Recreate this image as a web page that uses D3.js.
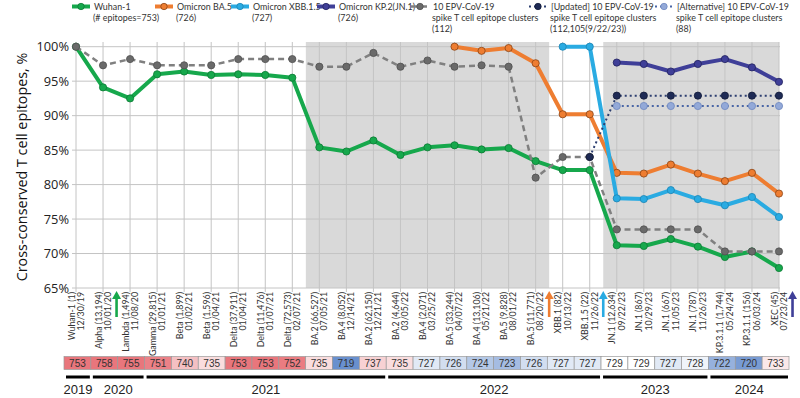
<!DOCTYPE html>
<html>
<head>
<meta charset="utf-8">
<script src="https://cdn.jsdelivr.net/npm/d3@7"></script>
<style>
  body { margin: 0; background: #fff; }
  svg { display: block; }
</style>
</head>
<body>
<svg id="chart" width="800" height="398"></svg>
<script>
// categories (variant + sample count) and collection dates
const variants = ["Wuhan-1 (1)", "Alpha (13,194)", "Lambda (1,494)", "Gamma (29,815)", "Beta (1,899)", "Beta (1,596)",
  "Delta (37,911)", "Delta (11,476)", "Delta (72,573)", "BA.2 (66,527)", "BA.4 (8,052)", "BA.2 (62,150)",
  "BA.2 (4,644)", "BA.4 (2,071)", "BA.5 (33,244)", "BA.4 (13,106)", "BA.5 (9,828)", "BA.5 (11,771)",
  "XBB.1 (82)", "XBB.1.5 (22)", "JN.1 (12,634)", "JN.1 (867)", "JN.1 (667)", "JN.1 (787)",
  "KP.3.1.1 (1,744)", "KP.3.1.1 (156)", "XEC (45)"]
const dates = ["12/30/19", "10/01/20", "11/08/20", "01/01/21", "01/02/21", "01/04/21", "01/04/21", "01/07/21",
  "02/07/21", "07/05/21", "12/14/21", "12/21/21", "03/05/22", "03/25/22", "04/07/22", "05/21/22", "08/01/22",
  "08/20/22", "10/13/22", "11/26/22", "09/22/23", "10/29/23", "11/05/23", "11/26/23", "05/24/24", "06/03/24",
  "07/23/24"]

// cross-conserved T cell epitopes, % (null = not computed)
const wuhan = [100, 94.1, 92.5, 96.0, 96.4, 95.9, 96.0, 95.9, 95.5, 85.4, 84.8, 86.4, 84.3, 85.4, 85.7, 85.1,
  85.3, 83.4, 82.1, 82.1, 71.2, 71.1, 72.1, 71.0, 69.5, 70.3, 67.9]
const ba5 = [null, null, null, null, null, null, null, null, null, null, null, null, null, null, 100, 99.4,
  99.8, 97.6, 90.2, 90.2, 81.7, 81.6, 82.9, 81.6, 80.5, 81.7, 78.7]
const xbb15 = [null, null, null, null, null, null, null, null, null, null, null, null, null, null, null, null,
  null, null, 100, 100, 78.0, 77.9, 79.2, 77.9, 77.0, 78.2, 75.3]
const kp2 = [null, null, null, null, null, null, null, null, null, null, null, null, null, null, null, null,
  null, null, null, null, 97.7, 97.5, 96.4, 97.5, 98.2, 97.0, 94.9]
const epv112 = [100, 97.3, 98.2, 97.3, 97.3, 97.3, 98.2, 98.2, 98.2, 97.1, 97.1, 99.1, 97.1, 98.0, 97.1, 97.3,
  97.1, 81.0, 84.0, 84.0, 73.5, 73.5, 73.5, 73.5, 70.3, 70.3, 70.3]
const epvUpdated = [null, null, null, null, null, null, null, null, null, null, null, null, null, null, null, null,
  null, null, null, 84.0, 92.9, 92.9, 92.9, 92.9, 92.9, 92.9, 92.9]
const epvAlt = [null, null, null, null, null, null, null, null, null, null, null, null, null, null, null, null,
  null, null, null, null, 91.4, 91.4, 91.4, 91.4, 91.4, 91.4, 91.4]

const yTicks = [65, 70, 75, 80, 85, 90, 95, 100]

// number of epitopes per variant (bottom strip)
const epitopeCounts = [753, 758, 755, 751, 740, 735, 753, 753, 752, 735, 719, 737, 735, 727, 726, 724, 723,
  726, 727, 727, 729, 729, 727, 728, 722, 720, 733]

const years = ["2019", "2020", "2021", "2022", "2023", "2024"]
const yearFirst = [0, 1, 3, 12, 20, 24]
const yearLast = [0, 2, 11, 19, 23, 26]

// shaded (omicron) periods, category index ranges
const shadeFirst = [9, 20]
const shadeLast = [17, 26]

// vaccine update arrows, placed after category index
const arrowAfter = [1, 17, 19, 26]

const series = [
  { name: "Wuhan-1", sub: ["(# epitopes=753)"], values: wuhan, color: "#16a84c", mark: "#16a84c", markStroke: "#0d7a35", width: 4, dash: null, lx: 72 },
  { name: "Omicron BA.5", sub: ["(726)"], values: ba5, color: "#ee7d31", mark: "#ee7d31", markStroke: "#8a4415", width: 4, dash: null, lx: 155 },
  { name: "Omicron XBB.1.5", sub: ["(727)"], values: xbb15, color: "#2aabe2", mark: "#2aabe2", markStroke: "#1c84b4", width: 4, dash: null, lx: 231 },
  { name: "Omicron KP.2(JN.1)", sub: ["(726)"], values: kp2, color: "#3f3f98", mark: "#3f3f98", markStroke: "#22225e", width: 4, dash: null, lx: 317 },
  { name: "10 EPV-CoV-19", sub: ["spike T cell epitope clusters", "(112)"], values: epv112, color: "#808080", mark: "#6a6a6a", markStroke: "#505050", width: 2.5, dash: "6,4", lx: 411 },
  { name: "[Updated] 10 EPV-CoV-19", sub: ["spike T cell epitope clusters", "(112,105(9/22/23))"], values: epvUpdated, color: "#2c3e70", mark: "#1f2b55", markStroke: "#121a38", width: 2, dash: "2,3", lx: 529 },
  { name: "[Alternative] 10 EPV-CoV-19", sub: ["spike T cell epitope clusters", "(88)"], values: epvAlt, color: "#4a66a6", mark: "#93a9d8", markStroke: "#6f88bf", width: 2, dash: "2,3", lx: 655 }
]
const arrowColors = ["#16a84c", "#ee7d31", "#2aabe2", "#3f3f98"]

const svg = d3.select("#chart")
const plotTop = 42, plotBottom = 288, plotLeft = 76, plotRight = 779

var x = d3.scalePoint().domain(d3.range(variants.length)).range([plotLeft, plotRight])
var step = x.step()
var y = d3.scaleLinear().domain([65, 100]).range([plotBottom, 46.7])

// shaded periods
shadeFirst.forEach(function (f, k) {
  var x0 = x(f) - step / 2
  var x1 = Math.min(plotRight, x(shadeLast[k]) + step / 2)
  svg.append("rect").attr("x", x0).attr("y", plotTop).attr("width", x1 - x0).attr("height", plotBottom - plotTop)
    .style("fill", "#d9d9d9")
})

// grid
svg.append("g").selectAll("line").data(yTicks).join("line")
  .attr("x1", plotLeft - 4).attr("x2", plotRight + 1)
  .attr("y1", d => y(d)).attr("y2", d => y(d))
  .style("stroke", "#c4c4c4").style("stroke-width", 1)
svg.append("g").selectAll("line").data(d3.range(variants.length)).join("line")
  .attr("x1", d => x(d)).attr("x2", d => x(d))
  .attr("y1", plotTop).attr("y2", plotBottom + 4)
  .style("stroke", "#c4c4c4").style("stroke-width", 1)

// y tick labels
svg.append("g").selectAll("text").data(yTicks).join("text")
  .attr("x", 69).attr("y", d => y(d) + 4.5)
  .attr("text-anchor", "end")
  .style("font-family", "'Open Sans', 'Noto Sans', sans-serif").style("font-size", "12.8px").style("fill", "#222")
  .text(d => d + "%")

svg.append("text")
  .attr("transform", "translate(27," + 167 + ") rotate(-90)")
  .attr("text-anchor", "middle")
  .style("font-family", "'Open Sans', 'Noto Sans', sans-serif").style("font-size", "14.3px").style("fill", "#111")
  .text("Cross-conserved T cell epitopes, %")

// x labels
var xl = svg.append("g").selectAll("g").data(d3.range(variants.length)).join("g")
  .attr("transform", d => "translate(" + x(d) + "," + (plotBottom + 4) + ") rotate(-90)")
  .style("font-family", "Lato, 'Open Sans', sans-serif").style("font-size", "8.8px").style("fill", "#333")
xl.append("text").attr("x", 0).attr("y", -1.5).attr("text-anchor", "end").text(d => variants[d])
xl.append("text").attr("x", 0).attr("y", 7.8).attr("text-anchor", "end").text(d => dates[d])

// lines
series.forEach(function (s) {
  var pts = s.values.map((v, i) => [i, v]).filter(p => p[1] != null)
  var line = d3.line().x(p => x(p[0])).y(p => y(p[1]))
  svg.append("path").datum(pts).attr("d", line)
    .style("fill", "none").style("stroke", s.color).style("stroke-width", s.width)
    .style("stroke-dasharray", s.dash).style("stroke-linejoin", "round")
  svg.append("g").selectAll("circle").data(pts).join("circle")
    .attr("cx", p => x(p[0])).attr("cy", p => y(p[1])).attr("r", 3.6)
    .style("fill", s.mark).style("stroke", s.markStroke).style("stroke-width", 0.8)
})

// update arrows
arrowAfter.forEach(function (a, k) {
  var ax = x(a) + step / 2
  var g = svg.append("g").style("fill", arrowColors[k]).style("stroke", arrowColors[k])
  g.append("line").attr("x1", ax).attr("x2", ax).attr("y1", 317).attr("y2", 297).style("stroke-width", 2.6)
  g.append("path").attr("d", "M" + (ax - 4.5) + ",299 L" + ax + ",291 L" + (ax + 4.5) + ",299 Z").style("stroke", "none")
})

// legend
var lg = svg.append("g").style("font-family", "Lato, 'Open Sans', sans-serif")
  .style("font-size", "8.9px").style("fill", "#333")
series.forEach(function (s) {
  var ly = 6.5
  lg.append("line").attr("x1", s.lx).attr("x2", s.lx + 18).attr("y1", ly).attr("y2", ly)
    .style("stroke", s.color).style("stroke-width", s.width).style("stroke-dasharray", s.dash)
  lg.append("circle").attr("cx", s.lx + 9).attr("cy", ly).attr("r", 3.2)
    .style("fill", s.mark).style("stroke", s.markStroke).style("stroke-width", 0.8)
  var t = lg.append("text").attr("x", s.lx + 22).attr("y", 10)
  t.append("tspan").text(s.name)
  s.sub.forEach(function (l, j) {
    t.append("tspan").attr("x", s.lx + 21).attr("y", 21 + j * 11.2).text(l)
  })
})

// bottom strip of epitope counts
var xs = d3.scaleBand().domain(d3.range(epitopeCounts.length)).range([64, 789])
var cellColor = d3.scaleLinear().domain([718, 729, 753]).range(["#5a85c9", "#ffffff", "#e9767c"]).clamp(true)
var cells = svg.append("g").selectAll("g").data(epitopeCounts).join("g")
cells.append("rect")
  .attr("x", (d, i) => xs(i)).attr("y", 356.5).attr("width", xs.bandwidth()).attr("height", 13)
  .style("fill", d => cellColor(d)).style("stroke", "#9a9a9a").style("stroke-width", 0.7)
cells.append("text")
  .attr("x", (d, i) => xs(i) + xs.bandwidth() / 2).attr("y", 367)
  .attr("text-anchor", "middle")
  .style("font-family", "'Liberation Sans', Arial, sans-serif").style("font-size", "10px").style("fill", "#333")
  .text(d => d)

// year bars
years.forEach(function (yr, k) {
  var x0 = xs(yearFirst[k]) + 2, x1 = xs(yearLast[k]) + xs.bandwidth() - 1
  svg.append("line").attr("x1", x0).attr("x2", x1).attr("y1", 377).attr("y2", 377)
    .style("stroke", "#000").style("stroke-width", 3)
  svg.append("text").attr("x", (x0 + x1) / 2).attr("y", 394).attr("text-anchor", "middle")
    .style("font-family", "'Liberation Sans', Arial, sans-serif").style("font-size", "13px").style("fill", "#222")
    .text(yr)
})
</script>
</body>
</html>
